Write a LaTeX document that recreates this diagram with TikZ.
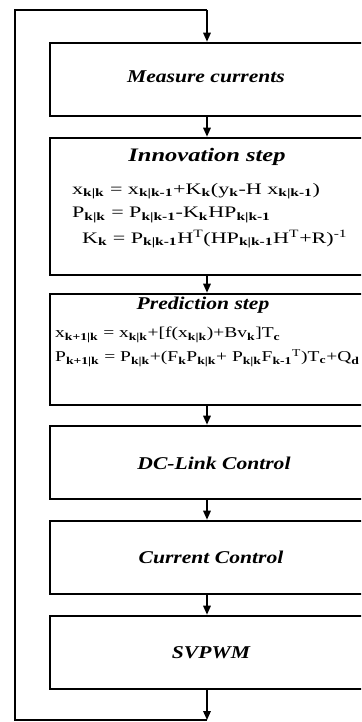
\documentclass[tikz,border=0pt]{standalone}
\usepackage{fontspec}
\usepackage{graphicx}
\setmainfont{Liberation Serif}
\usetikzlibrary{arrows.meta}
\newcommand\sbx[1]{\textsubscript{\bfseries #1}}
\newcommand\spx[1]{\textsuperscript{#1}}
\newcommand\wideeq[1]{\scalebox{1.3}[1]{#1}}
\newcommand\wideinn[1]{\scalebox{1.38}[1]{#1}}
\newcommand\widetitle[1]{\scalebox{1.2}[1]{#1}}
\tikzset{
  blockbox/.style={draw, line width=2.6pt, minimum width=314pt, inner sep=0pt},
  titletext/.style={font=\fontsize{18}{21}\selectfont\bfseries\itshape, inner sep=0pt},
  eqtext/.style={font=\fontsize{15}{17}\selectfont, inner sep=0pt, anchor=west},
  inntext/.style={font=\fontsize{16}{18}\selectfont, inner sep=0pt, anchor=west},
  flow/.style={line width=1.6pt, -{Triangle[length=9pt,width=7.5pt]}},
  loopline/.style={line width=1.8pt}
}
\begin{document}
\begin{tikzpicture}[x=1pt,y=-1pt]
\clip (0,0) rectangle (361,722);
\fill[white] (0,0) rectangle (361,722);
% boxes
\node[blockbox, minimum height=73pt] (meas) at (207,79.5) {};
\node[blockbox, minimum height=137pt] (innov) at (207,206.5) {};
\node[blockbox, minimum height=111pt] (pred) at (207,349.5) {};
\node[blockbox, minimum height=73pt] (dc) at (207,462.5) {};
\node[blockbox, minimum height=73pt] (cur) at (207,557.5) {};
\node[blockbox, minimum height=73pt] (svp) at (207,652.5) {};
% texts
\node[titletext] (tmeas) at (206,77) {\widetitle{Measure currents}};
\node[titletext] (tinnov) at (207,157) {\scalebox{1.36}[1.06]{Innovation step}};
\node[inntext] (e1) at (72,191) {\wideinn{x\sbx{k|k} = x\sbx{k|k-1}+K\sbx{k}(y\sbx{k}-H x\sbx{k|k-1})}};
\node[inntext] (e2) at (72,215) {\wideinn{P\sbx{k|k} = P\sbx{k|k-1}-K\sbx{k}HP\sbx{k|k-1}}};
\node[inntext] (e3) at (82,239) {\wideinn{K\sbx{k} = P\sbx{k|k-1}H\spx{T}(HP\sbx{k|k-1}H\spx{T}+R)\spx{-1}}};
\node[titletext] (tpred) at (203,305) {\widetitle{Prediction step}};
\node[eqtext] (e4) at (55,335) {\wideeq{x\sbx{k+1|k} = x\sbx{k|k}+[f(x\sbx{k|k})+Bv\sbx{k}]T\sbx{c}}};
\node[eqtext] (e5) at (55,358) {\wideeq{P\sbx{k+1|k} = P\sbx{k|k}+(F\sbx{k}P\sbx{k|k}+ P\sbx{k|k}F\sbx{k-1}\spx{T})T\sbx{c}+Q\sbx{d}}};
\node[titletext] (tdc) at (214,463) {\widetitle{DC-Link Control}};
\node[titletext] (tcur) at (211,557) {\widetitle{Current Control}};
\node[titletext] (tsvp) at (211,653) {\widetitle{SVPWM}};
% connectors
\draw[flow] (meas.south) -- (innov.north);
\draw[flow] (innov.south) -- (pred.north);
\draw[flow] (pred.south) -- (dc.north);
\draw[flow] (dc.south) -- (cur.north);
\draw[flow] (cur.south) -- (svp.north);
\coordinate (bot) at (207,720);
\coordinate (bl) at (15,720);
\coordinate (tl) at (15,10);
\coordinate (top) at (207,10);
\draw[flow] (svp.south) -- (bot);
\draw[loopline] (bot) -- (bl) -- (tl) -- (top);
\draw[flow] (top) -- (meas.north);
\end{tikzpicture}
\end{document}
